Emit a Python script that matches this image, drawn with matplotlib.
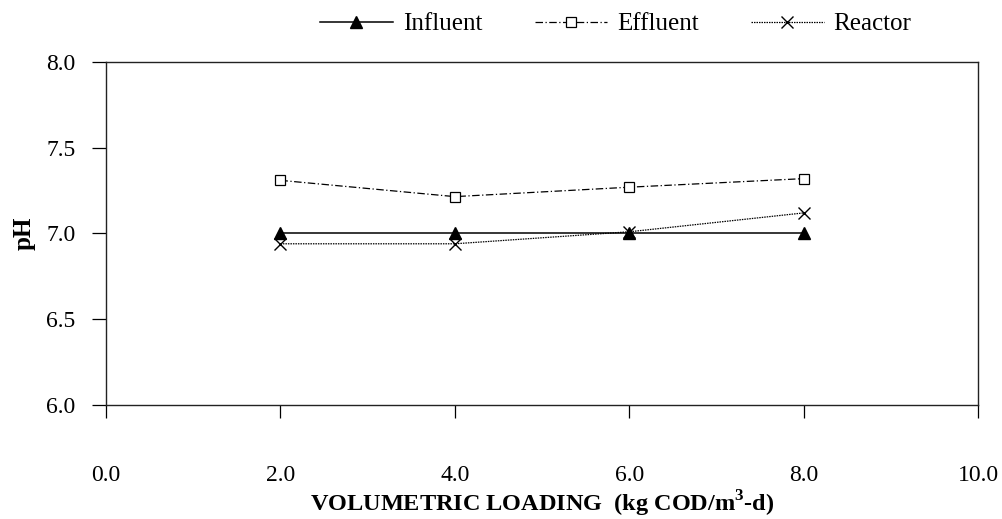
import matplotlib
matplotlib.use("Agg")
import matplotlib.pyplot as plt

loading = [2.0, 4.0, 6.0, 8.0]
influent = [7.00, 7.00, 7.00, 7.00]
effluent = [7.31, 7.215, 7.27, 7.32]
reactor = [6.94, 6.94, 7.01, 7.12]

xticks = [0, 2, 4, 6, 8, 10]
yticks = [6.0, 6.5, 7.0, 7.5, 8.0]

plt.rcParams["font.family"] = ["Liberation Serif", "DejaVu Serif"]
plt.rcParams["mathtext.fontset"] = "custom"
plt.rcParams["mathtext.rm"] = "Liberation Serif"
plt.rcParams["mathtext.bf"] = "Liberation Serif:bold"

fig = plt.figure(figsize=(10.03, 5.19), dpi=100)
ax = fig.add_axes([0.1057, 0.2197, 0.8694, 0.6608])

ax.plot(loading, influent, color="black", lw=1.1, marker="^", ms=9,
        mfc="black", mec="black", label="Influent")
ax.plot(loading, effluent, color="black", lw=0.9, ls=(0, (6, 2, 1, 2)),
        marker="s", ms=7.5, mfc="white", mec="black", mew=0.9, label="Effluent")
ax.plot(loading, reactor, color="black", lw=0.9, ls=(0, (1.2, 0.8)),
        marker="x", ms=9, mew=1.0, label="Reactor")

ax.set_xlim(0, 10)
ax.set_ylim(6.0, 8.0)
ax.set_xticks(xticks)
ax.set_xticklabels([f"{v:.1f}" for v in xticks])
ax.set_yticks(yticks)
ax.set_yticklabels([f"{v:.1f}" for v in yticks])
ax.tick_params(axis="x", direction="out", length=9, width=0.9, pad=34, labelsize=17)
ax.tick_params(axis="y", direction="out", length=10, width=0.9, pad=12, labelsize=17)
for s in ax.spines.values():
    s.set_linewidth(1.0)
    s.set_color("#222222")

ax.set_xlabel(r"VOLUMETRIC LOADING  (kg COD/m$^{\mathbf{3}}$-d)", fontsize=17.5,
              fontweight="bold")
ax.xaxis.set_label_coords(0.5, -0.245)
ax.set_ylabel("pH", fontsize=18, fontweight="bold")
ax.yaxis.set_label_coords(-0.081, 0.5)

fig.legend(loc="center", bbox_to_anchor=(0.614, 1 - 24 / 519), ncol=3, frameon=False,
           fontsize=18, handlelength=2.9, handletextpad=0.4, columnspacing=2.1)

fig.savefig("out.png", dpi=100)
